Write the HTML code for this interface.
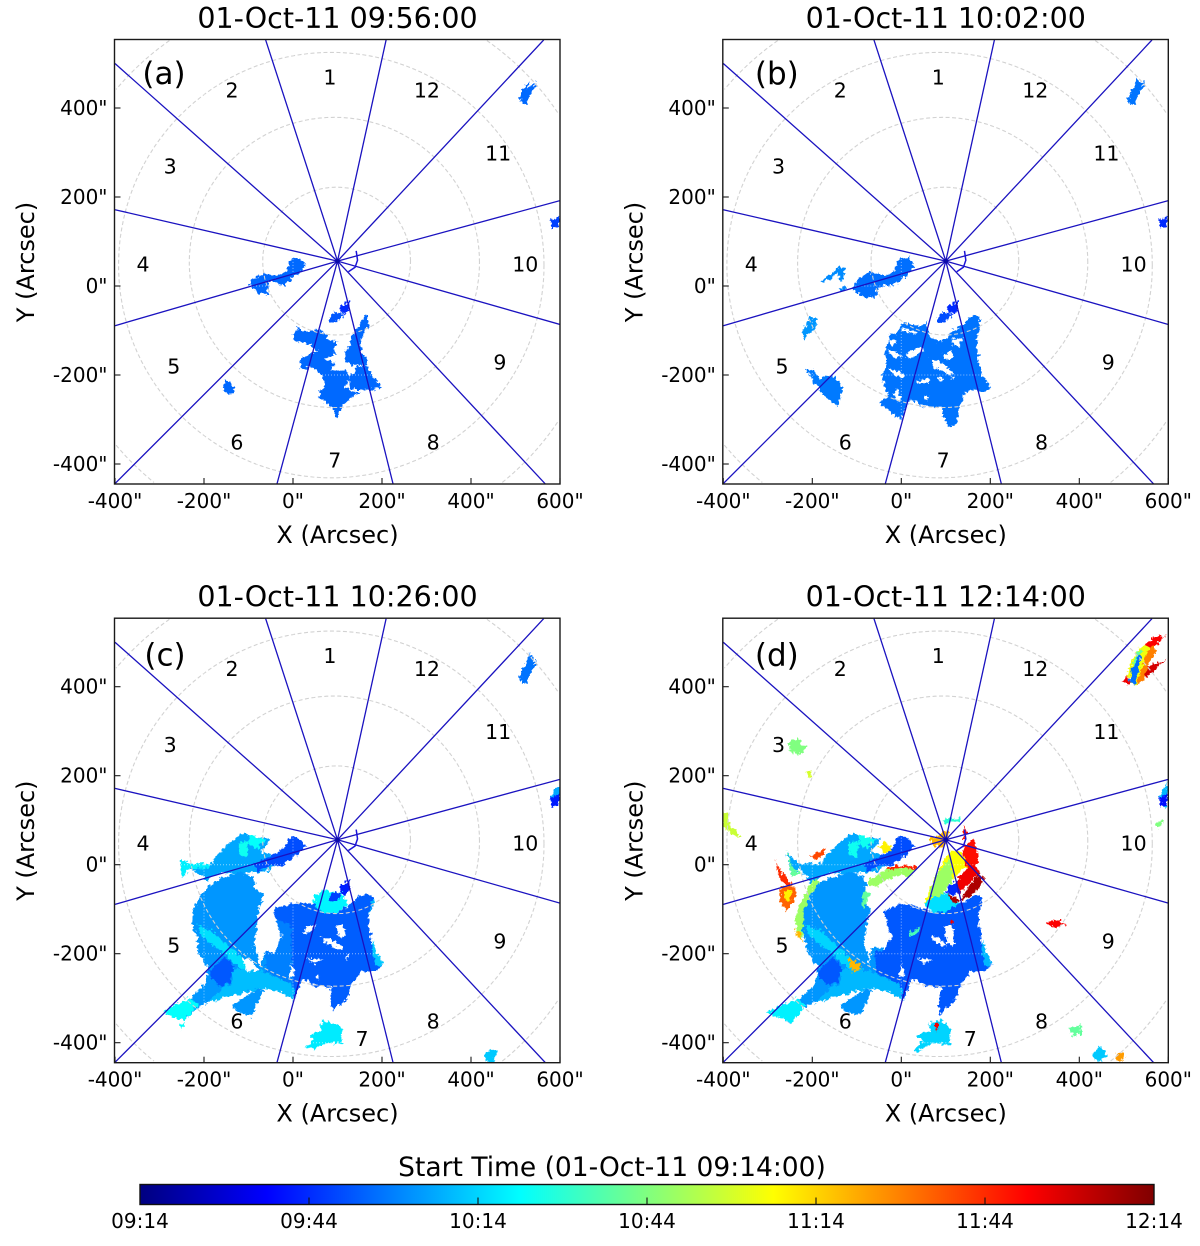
<!DOCTYPE html>
<html lang="en">
<head>
<meta charset="utf-8">
<title>Flare ribbon start time maps</title>
<style>
html,body{margin:0;padding:0;background:#fff;width:1200px;height:1246px;overflow:hidden}
svg{display:block}
text{font-family:"DejaVu Sans","Liberation Sans",sans-serif;fill:#000}
.title{font-size:28.5px;text-anchor:middle}
.axis-title{font-size:24px;text-anchor:middle}
.letter{font-size:31px;text-anchor:middle}
.tick{font-size:20px}
.sector{font-size:20.5px;text-anchor:middle}
</style>
</head>
<body>
<svg id="figure" xmlns="http://www.w3.org/2000/svg" width="1200" height="1246" viewBox="0 0 1200 1246">
  <defs>
    <clipPath id="axes-clip"><rect x="114.5" y="39.5" width="445.5" height="444.5"/></clipPath>
    <filter id="rough" filterUnits="userSpaceOnUse" x="110" y="35" width="455" height="455" color-interpolation-filters="sRGB">
      <feTurbulence type="fractalNoise" baseFrequency="0.28" numOctaves="3" seed="4" result="noise"/>
      <feDisplacementMap in="SourceGraphic" in2="noise" scale="7" xChannelSelector="R" yChannelSelector="G"/>
    </filter>
    <linearGradient id="jet-gradient" x1="0" y1="0" x2="1" y2="0"></linearGradient>
  </defs>

  <g id="panel-a" transform="translate(0,0)">
    <text class="title" x="337.5" y="28">01-Oct-11 09:56:00</text>
    <text class="letter" x="164" y="84">(a)</text>
    <text class="axis-title" x="337.5" y="543">X (Arcsec)</text>
    <text class="axis-title" transform="translate(34,262) rotate(-90)">Y (Arcsec)</text>
  </g>
  <g id="panel-b" transform="translate(608.3,0)">
    <text class="title" x="337.5" y="28">01-Oct-11 10:02:00</text>
    <text class="letter" x="168.5" y="84">(b)</text>
    <text class="axis-title" x="337.5" y="543">X (Arcsec)</text>
    <text class="axis-title" transform="translate(34,262) rotate(-90)">Y (Arcsec)</text>
  </g>
  <g id="panel-c" transform="translate(0,578.7)">
    <text class="title" x="337.5" y="28">01-Oct-11 10:26:00</text>
    <text class="letter" x="165" y="87">(c)</text>
    <text class="axis-title" x="337.5" y="543">X (Arcsec)</text>
    <text class="axis-title" transform="translate(34,262) rotate(-90)">Y (Arcsec)</text>
  </g>
  <g id="panel-d" transform="translate(608.3,578.7)">
    <text class="title" x="337.5" y="28">01-Oct-11 12:14:00</text>
    <text class="letter" x="168.5" y="87">(d)</text>
    <text class="axis-title" x="337.5" y="543">X (Arcsec)</text>
    <text class="axis-title" transform="translate(34,262) rotate(-90)">Y (Arcsec)</text>
  </g>

  <g id="colorbar">
    <text x="612" y="1176" style="font-size:26.5px;text-anchor:middle">Start Time (01-Oct-11 09:14:00)</text>
  </g>
</svg>

<script>
// Axis tick values (arcsec)
const xTickValues = [-400, -200, 0, 200, 400, 600];
const yTickValues = [-400, -200, 0, 200, 400];
const xTickLabels = ['-400"', '-200"', '0"', '200"', '400"', '600"'];
const yTickLabels = ['-400"', '-200"', '0"', '200"', '400"'];

// Visible data window of each panel (arcsec)
const xLimits = [-400, 600];
const yLimits = [-445, 553];

// Sector geometry: apex (arcsec) and boundary bearings (degrees clockwise from north)
const sectorApex = [100, 56];
const sectorBearings = [12.4, 43, 74.8, 105.9, 137, 166, 195.2, 225, 253.8, 283, 311.6, 342];

// Sector numbers and their label anchors (arcsec)
const sectorNumbers = ['1','2','3','4','5','6','7','8','9','10','11','12'];
const sectorLabelX = [83,-137,-276,-337,-268,-126,94,315,465,522,461,301];
const sectorLabelY = [470,441,270,49,-180,-351,-391,-351,-171,49,299,441];
const sectorLabelXLate7 = 155;

// Projected heliographic rings: centre X, centre Y, radius (arcsec)
const ringCenterX = [98, 93, 86, 79];
const ringCenterY = [56, 53, 47, 42];
const ringRadius = [166, 326, 478, 622];

// Sunspot-like hook near the apex (arcsec)
const hookX = [142, 145, 139.5, 124.5];
const hookY = [79, 58, 42, 32];

// Colour bar: minutes after 09:14
const cbarMaxMinutes = 180;
const cbarTickMinutes = [0, 30, 60, 90, 120, 150, 180];
const cbarTickLabels = ['09:14', '09:44', '10:14', '10:44', '11:14', '11:44', '12:14'];

// Ribbon regions per panel: [start minute after 09:14 (-1 = gap), outline in arcsec]
const regionsA = [
 [41,[[-16,32],[-7,58],[8,64],[23,54],[31,45],[16,32],[-3,17],[-18,0],[-37,7],[-53,12],[-57,-20],[-74,-17],[-93,-3],[-100,4],[-85,17],[-66,28],[-53,25],[-39,22]]],
 [30,[[106,-47],[125,-30],[128,-50],[117,-65],[106,-60]]],
 [38,[[80,-69],[98,-58],[113,-65],[106,-77],[83,-83]]],
 [41,[[0,-108],[12,-92],[23,-103],[53,-97],[77,-107],[76,-122],[102,-125],[91,-144],[98,-155],[68,-163],[57,-148],[38,-133],[16,-125],[2,-122]]],
 [41,[[16,-163],[38,-153],[61,-144],[76,-167],[95,-174],[83,-189],[121,-189],[128,-211],[117,-223],[128,-238],[154,-238],[128,-253],[113,-268],[106,-279],[97,-298],[87,-271],[61,-253],[59,-238],[72,-226],[68,-204],[53,-189],[38,-182],[17,-187]]],
 [41,[[140,-103],[151,-84],[164,-65],[172,-77],[166,-99],[155,-110],[151,-133],[158,-155],[169,-167],[162,-178],[136,-178],[117,-167],[117,-148],[128,-133],[132,-110]]],
 [41,[[143,-182],[166,-178],[181,-204],[199,-228],[181,-232],[151,-234],[128,-232],[127,-208]]],
 [41,[[-158,-219],[-147,-213],[-132,-230],[-135,-243],[-149,-243],[-156,-230]]],
 [41,[[510,425],[521,451],[533,459],[525,444],[549,459],[536,436],[529,421],[521,406],[514,412]]],
 [34,[[578,148],[599,158],[599,137],[585,128],[581,141]]]
];
const regionsB = [
 [42,[[-18,32],[-7,60],[16,64],[31,43],[12,24],[-14,2],[-37,2],[-52,-5],[-59,-24],[-85,-26],[-104,-13],[-109,-2],[-93,17],[-74,30],[-48,28],[-37,22]]],
 [47,[[-181,9],[-160,27],[-139,45],[-136,42],[-129,39],[-129,12],[-139,12],[-142,32],[-160,17],[-179,6]]],
 [46,[[-142,-6],[-123,0],[-123,-8],[-138,-13]]],
 [49,[[-222,-103],[-209,-77],[-204,-68],[-192,-73],[-192,-99],[-209,-107],[-219,-122]]],
 [44,[[-214,-185],[-198,-189],[-183,-208],[-157,-200],[-139,-215],[-132,-232],[-139,-260],[-145,-271],[-168,-253],[-183,-234],[-201,-208],[-211,-193]]],
 [30,[[102,-48],[126,-30],[129,-50],[121,-63],[106,-62]]],
 [36,[[79,-69],[98,-58],[113,-65],[106,-77],[83,-84]]],
 [43,[[1,-83],[23,-88],[51,-88],[58,-77],[64,-114],[83,-125],[102,-118],[117,-99],[139,-88],[151,-69],[175,-65],[177,-95],[169,-122],[175,-174],[180,-196],[198,-226],[201,-230],[180,-238],[169,-232],[143,-238],[132,-271],[124,-313],[106,-314],[93,-294],[91,-271],[49,-271],[19,-253],[8,-279],[1,-303],[-25,-283],[-49,-262],[-29,-249],[-37,-226],[-44,-204],[-34,-181],[-35,-144],[-25,-110],[-10,-107]]],
 [-1,[[-31,-144],[-14,-148],[1,-159],[-18,-163]]],
 [-1,[[8,-155],[46,-135],[51,-146],[19,-163]]],
 [-1,[[66,-163],[93,-174],[117,-196],[109,-200],[72,-182]]],
 [-1,[[-25,-185],[8,-200],[1,-208],[-24,-195]]],
 [-1,[[34,-213],[64,-208],[61,-219],[38,-219]]],
 [-1,[[-10,-230],[1,-253],[-9,-263],[-16,-242]]],
 [-1,[[113,-118],[136,-118],[130,-137],[117,-133]]],
 [-1,[[94,-155],[113,-146],[117,-163],[102,-167]]],
 [-1,[[-29,-118],[-10,-125],[-22,-137]]],
 [-1,[[83,-204],[93,-208],[87,-215]]],
 [-1,[[49,-245],[64,-249],[57,-258]]],
 [-1,[[109,-204],[121,-200],[117,-211]]],
 [-1,[[1,-92],[34,-103],[34,-110],[4,-99]]],
 [43,[[510,421],[521,444],[530,472],[536,457],[550,461],[538,440],[527,418],[521,404],[512,410]]],
 [30,[[578,148],[598,158],[598,137],[587,128],[581,141]]]
];
const regionsC = [
 [52,[[-254,12],[-231,3],[-183,1],[-171,22],[-145,48],[-123,63],[-111,71],[-85,63],[-51,59],[-59,44],[-74,29],[-51,22],[-37,3],[-59,-16],[-111,-19],[-156,-19],[-186,-27],[-190,-38],[-231,-8],[-250,-30]]],
 [70,[[-123,48],[-100,52],[-104,14],[-119,22]]],
 [68,[[-96,67],[-59,56],[-81,37],[-100,48]]],
 [65,[[-254,12],[-231,3],[-186,1],[-194,-8],[-231,-8],[-250,-30]]],
 [36,[[-18,41],[-10,59],[5,64],[31,42],[8,22],[-22,-1],[-51,-1],[-78,-16],[-89,3],[-59,14],[-37,26]]],
 [49,[[-186,-45],[-156,-27],[-119,-16],[-89,-27],[-85,-53],[-65,-68],[-74,-90],[-78,-109],[-81,-147],[-89,-180],[-78,-210],[-72,-233],[-66,-199],[-59,-199],[-40,-199],[-22,-252],[8,-259],[1,-304],[-29,-285],[-66,-278],[-111,-289],[-149,-296],[-186,-308],[-216,-323],[-242,-349],[-269,-345],[-291,-330],[-265,-315],[-231,-300],[-198,-266],[-190,-233],[-212,-199],[-216,-162],[-227,-132],[-224,-102],[-209,-72]]],
 [39,[[-40,-98],[-3,-87],[46,-87],[68,-106],[98,-109],[128,-90],[151,-68],[177,-66],[181,-90],[169,-117],[177,-177],[188,-199],[203,-225],[181,-240],[154,-240],[132,-266],[121,-304],[89,-326],[83,-308],[87,-274],[53,-274],[20,-255],[5,-300],[-14,-289],[-59,-266],[-63,-195],[-40,-199],[-29,-162],[-37,-124],[-44,-106]]],
 [45,[[-63,-195],[-40,-199],[-29,-162],[-37,-124],[-3,-132],[-3,-200],[5,-300],[-14,-289],[-59,-266]]],
 [66,[[46,-68],[68,-57],[110,-64],[125,-90],[98,-109],[68,-106],[47,-94]]],
 [28,[[106,-49],[125,-30],[130,-53],[117,-68],[106,-63]]],
 [34,[[80,-68],[98,-60],[110,-68],[102,-79],[83,-83]]],
 [62,[[-216,-135],[-186,-147],[-134,-192],[-81,-237],[-111,-240],[-156,-199],[-201,-165]]],
 [38,[[-186,-237],[-153,-207],[-134,-229],[-141,-266],[-164,-274],[-186,-252]]],
 [56,[[-134,-233],[-66,-240],[-22,-259],[5,-278],[1,-304],[-29,-285],[-74,-278],[-141,-296],[-194,-311],[-156,-274],[-138,-270]]],
 [68,[[-291,-330],[-265,-315],[-231,-300],[-212,-315],[-242,-349],[-269,-345]]],
 [68,[[-254,-360],[-245,-356],[-250,-371]]],
 [49,[[-138,-315],[-104,-296],[-78,-278],[-66,-285],[-85,-319],[-93,-340],[-126,-330]]],
 [64,[[27,-409],[46,-398],[38,-383],[61,-375],[65,-350],[83,-353],[110,-364],[110,-401],[76,-401],[46,-415]]],
 [58,[[428,-428],[443,-416],[462,-420],[450,-435],[454,-445],[435,-443]]],
 [43,[[510,423],[521,449],[533,477],[540,456],[549,460],[536,434],[521,404],[514,407]]],
 [52,[[578,149],[593,175],[599,179],[599,139],[585,128]]],
 [27,[[578,149],[599,160],[599,139],[585,128]]],
 [58,[[181,-169],[188,-199],[205,-225],[188,-229],[177,-192]]],
 [55,[[177,-79],[184,-79],[169,-117]]],
 [-1,[[65,-162],[87,-169],[113,-184],[110,-192],[83,-180],[68,-175]]],
 [-1,[[98,-139],[113,-132],[119,-162],[104,-165]]],
 [-1,[[31,-139],[50,-135],[42,-150],[23,-154]]],
 [-1,[[-44,-117],[-25,-162],[-33,-177],[-44,-147]]],
 [-1,[[31,-210],[68,-214],[46,-222]]],
 [-1,[[-3,-222],[5,-252],[-10,-255]]],
 [-1,[[117,-207],[125,-199],[122,-218]]],
 [-1,[[50,-248],[62,-250],[55,-259]]],
 [-1,[[-115,-210],[-93,-214],[-78,-237],[-104,-240]]]
];
const regionsD = [
 [52,[[-258,26],[-228,3],[-179,1],[-168,22],[-142,48],[-119,63],[-108,71],[-82,63],[-48,59],[-55,44],[-70,29],[-48,22],[-33,3],[-55,-16],[-108,-19],[-153,-19],[-183,-27],[-198,-49],[-228,-8],[-246,-27]]],
 [70,[[-119,48],[-96,52],[-100,14],[-115,22]]],
 [70,[[-92,67],[-55,56],[-78,37],[-96,48]]],
 [36,[[-18,41],[-10,63],[8,64],[31,42],[12,22],[-18,-1],[-48,-1],[-74,-16],[-85,3],[-55,14],[-33,26]]],
 [49,[[-183,-38],[-153,-27],[-115,-16],[-85,-27],[-78,-49],[-85,-68],[-70,-102],[-78,-139],[-85,-180],[-74,-207],[-70,-233],[-70,-192],[-55,-184],[-37,-192],[-18,-252],[12,-259],[5,-304],[-25,-285],[-70,-278],[-108,-285],[-145,-296],[-194,-311],[-228,-323],[-250,-356],[-276,-341],[-303,-330],[-265,-315],[-228,-300],[-194,-266],[-186,-233],[-209,-199],[-224,-139],[-228,-102],[-205,-72]]],
 [38,[[-40,-106],[-3,-87],[49,-98],[72,-106],[102,-102],[132,-87],[177,-64],[180,-90],[173,-117],[180,-177],[192,-199],[205,-225],[184,-240],[158,-240],[136,-266],[121,-304],[87,-338],[83,-308],[91,-274],[57,-274],[23,-255],[8,-300],[-10,-289],[-55,-266],[-59,-195],[-37,-192],[-25,-162],[-33,-124]]],
 [95,[[-228,-87],[-209,-49],[-190,-30],[-183,-38],[-205,-72],[-220,-102],[-220,-165],[-231,-158],[-239,-124]]],
 [150,[[-282,11],[-269,-19],[-258,-27],[-246,-49],[-261,-45],[-276,-27]]],
 [140,[[-273,-53],[-246,-45],[-235,-57],[-243,-87],[-261,-106],[-273,-79]]],
 [115,[[-261,-60],[-246,-57],[-250,-79],[-261,-79]]],
 [85,[[-258,33],[-246,-4],[-228,-19],[-246,-27]]],
 [145,[[-207,18],[-183,29],[-169,39],[-175,22],[-190,14]]],
 [95,[[-78,-38],[-48,-19],[-25,-8],[12,-4],[34,-4],[19,-27],[1,-23],[-33,-34],[-55,-49],[-74,-45]]],
 [152,[[-33,-8],[-10,-1],[34,-3],[31,-8],[-10,-8],[-29,-13]]],
 [115,[[-49,41],[-37,54],[-25,42],[-20,32],[-40,27]]],
 [85,[[-85,-60],[-70,-64],[-78,-87],[-84,-98],[-89,-87]]],
 [125,[[-241,-147],[-228,-150],[-219,-177],[-228,-169]]],
 [62,[[49,-90],[72,-57],[102,-64],[132,-87],[102,-106],[72,-106]]],
 [112,[[109,33],[136,29],[154,-4],[132,-12],[117,-34],[94,-49],[72,-72],[49,-90],[79,-19]]],
 [95,[[79,-19],[109,11],[117,-34],[87,-72],[61,-72]]],
 [155,[[139,41],[162,56],[173,18],[169,-4],[151,-12],[143,3]]],
 [160,[[117,-42],[162,3],[177,-16],[132,-64],[109,-64]]],
 [172,[[132,-79],[173,-19],[186,-27],[180,-49],[154,-72],[117,-87],[102,-64]]],
 [30,[[106,-49],[124,-34],[133,-60],[117,-68],[102,-64]]],
 [75,[[93,100],[109,106],[132,104],[132,93],[109,97],[98,89]]],
 [125,[[61,56],[83,67],[94,78],[109,71],[102,52],[94,39],[72,44]]],
 [155,[[138,93],[147,71],[143,56],[138,56],[141,74]]],
 [90,[[-252,276],[-231,285],[-224,269],[-211,267],[-228,246],[-250,254]]],
 [105,[[-214,209],[-201,210],[-205,192]]],
 [103,[[-401,123],[-392,115],[-389,93],[-362,67],[-370,63],[-392,78],[-401,85]]],
 [158,[[544,490],[566,511],[595,516],[574,497],[555,479]]],
 [165,[[551,445],[596,460],[581,449],[551,419],[542,423]]],
 [160,[[495,411],[510,426],[514,404]]],
 [135,[[544,475],[566,494],[574,482],[555,449],[544,415],[529,404]]],
 [110,[[508,430],[525,475],[544,494],[559,490],[544,452],[529,404],[518,406]]],
 [85,[[518,445],[529,479],[540,482],[529,452]]],
 [42,[[512,411],[520,445],[538,475],[535,449],[525,404]]],
 [55,[[578,149],[592,172],[598,190],[598,130],[589,127]]],
 [25,[[578,149],[598,160],[598,138],[587,128]]],
 [90,[[570,85],[585,102],[589,97],[580,84]]],
 [158,[[328,-130],[349,-123],[372,-135],[345,-141],[330,-135]]],
 [85,[[375,-368],[405,-360],[407,-379],[386,-386]]],
 [58,[[428,-428],[446,-407],[465,-428],[450,-440],[435,-439]]],
 [130,[[480,-424],[499,-422],[503,-435],[488,-443]]],
 [60,[[27,-416],[49,-398],[34,-383],[64,-375],[64,-353],[91,-350],[111,-368],[109,-405],[72,-401],[34,-420]]],
 [160,[[76,-356],[83,-356],[79,-379]]],
 [49,[[-138,-315],[-104,-296],[-78,-278],[-67,-285],[-85,-323],[-93,-338],[-127,-330]]],
 [38,[[-186,-237],[-153,-207],[-134,-233],[-142,-266],[-168,-270],[-186,-252]]],
 [60,[[-220,-135],[-183,-147],[-134,-192],[-85,-237],[-112,-240],[-157,-199],[-201,-165]]],
 [55,[[-134,-233],[-67,-240],[-22,-259],[4,-278],[1,-304],[-29,-285],[-74,-278],[-142,-296],[-194,-311],[-157,-274],[-138,-270]]],
 [125,[[-119,-210],[-93,-222],[-89,-237],[-112,-240]]],
 [65,[[-303,-330],[-265,-315],[-231,-300],[-216,-319],[-246,-356],[-273,-345]]],
 [55,[[185,-169],[192,-199],[205,-225],[190,-229],[180,-192]]],
 [160,[[109,-124],[117,-121],[113,-135]]],
 [80,[[16,-155],[42,-140],[38,-152],[19,-162]]],
 [-1,[[68,-158],[87,-165],[102,-184],[87,-180],[70,-172]]],
 [-1,[[98,-139],[117,-135],[118,-180],[102,-177]]],
 [-1,[[34,-210],[72,-214],[49,-222]]],
 [-1,[[1,-222],[8,-252],[-6,-255]]],
 [-1,[[-40,-121],[-22,-162],[-29,-177],[-40,-147]]]
];

// Axis functions (arcsec to panel pixels)
function sx(v){ return 293 + v * 0.445; }
function sy(v){ return 286 - v * 0.445; }
// Matplotlib "jet" colour map
function jet(f){
  const c = v => Math.round(255 * Math.max(0, Math.min(1, v)));
  return 'rgb(' + c(1.5 - Math.abs(4*f - 3)) + ',' + c(1.5 - Math.abs(4*f - 2)) + ',' + c(1.5 - Math.abs(4*f - 1)) + ')';
}
const NS = 'http://www.w3.org/2000/svg';
function mk(tag, parent, attrs){
  const n = document.createElementNS(NS, tag);
  for (const k in attrs) n.setAttribute(k, attrs[k]);
  parent.appendChild(n);
  return n;
}
// Length of a ray from the apex to the edge of the data window
function rayReach(dx, dy){
  let t = Infinity;
  if (dx > 0) t = Math.min(t, (xLimits[1] - sectorApex[0]) / dx);
  if (dx < 0) t = Math.min(t, (xLimits[0] - sectorApex[0]) / dx);
  if (dy > 0) t = Math.min(t, (yLimits[1] - sectorApex[1]) / dy);
  if (dy < 0) t = Math.min(t, (yLimits[0] - sectorApex[1]) / dy);
  return t;
}
// Parts of a ring that fall inside the data window, as point runs
function ringRuns(cx, cy, r){
  const runs = [];
  let run = null;
  for (let d = 0; d <= 360; d += 1) {
    const a = d * Math.PI / 180;
    const x = cx + r * Math.cos(a), y = cy + r * Math.sin(a);
    if (x >= xLimits[0] && x <= xLimits[1] && y >= yLimits[0] && y <= yLimits[1]) {
      if (!run) { run = []; runs.push(run); }
      run.push(sx(x).toFixed(1) + ',' + sy(y).toFixed(1));
    } else {
      run = null;
    }
  }
  return runs;
}

function drawPanel(key, regions, late7){
  const root = document.getElementById('panel-' + key);
  const plot = mk('g', root, {'clip-path':'url(#axes-clip)'});
  
  

  const blobs = mk('g', plot, {filter:'url(#rough)'});
  
  
  regions.forEach(function(r){
    const pts = r[1].map(function(p){ return sx(p[0]).toFixed(1) + ',' + sy(p[1]).toFixed(1); }).join(' ');
    const fill = r[0] < 0 ? '#fff' : jet(r[0] / cbarMaxMinutes);
    const el = mk('polygon', blobs, {points: pts, fill: fill});
    
    
  });

  ringRadius.forEach(function(rad, i){
    ringRuns(ringCenterX[i], ringCenterY[i], rad).forEach(function(run){
      const el = mk('polyline', plot, {points: run.join(' '), fill:'none', stroke:'#d2d2d2', 'stroke-width':1.1, 'stroke-dasharray':'4 2.5'});
      
      
    });
  });

  xTickValues.slice(1,5).forEach(function(v){
    const el = mk('line', plot, {x1:sx(v), x2:sx(v), y1:sy(yLimits[1]), y2:sy(yLimits[0]), stroke:'#fff', 'stroke-opacity':0.55, 'stroke-width':1, 'stroke-dasharray':'1 2'});
    
    
  });
  yTickValues.forEach(function(v){
    const el = mk('line', plot, {x1:sx(xLimits[0]), x2:sx(xLimits[1]), y1:sy(v), y2:sy(v), stroke:'#fff', 'stroke-opacity':0.55, 'stroke-width':1, 'stroke-dasharray':'1 2'});
    
    
  });

  sectorBearings.forEach(function(b){
    const a = b * Math.PI / 180;
    const dx = Math.sin(a), dy = Math.cos(a), t = rayReach(dx, dy);
    const el = mk('line', plot, {x1:sx(sectorApex[0]), y1:sy(sectorApex[1]),
      x2:sx(sectorApex[0] + t*dx), y2:sy(sectorApex[1] + t*dy),
      stroke:'#1a12c0', 'stroke-width':1.3});
    
    
  });

  const hook = mk('polyline', plot, {points: hookX.map(function(x,i){ return sx(x) + ',' + sy(hookY[i]); }).join(' '),
    fill:'none', stroke:'#1c14d8', 'stroke-width':1.5});
  
  
  const dot = mk('circle', plot, {cx:sx(sectorApex[0]), cy:sy(sectorApex[1]), r:2.2, fill:'#0a0aa8'});
  
  

  sectorNumbers.forEach(function(n, i){
    const x = (late7 && n === '7') ? sectorLabelXLate7 : sectorLabelX[i];
    const el = mk('text', root, {'class':'sector', x:sx(x), y:sy(sectorLabelY[i]) + 7.5});
    el.textContent = n;
    
    
  });

  const frame = mk('rect', root, {x:114.5, y:39.5, width:445.5, height:444.5, fill:'none', stroke:'#1a1a1a', 'stroke-width':1.4});
  
  

  xTickValues.forEach(function(v, i){
    const t = mk('line', root, {x1:sx(v), x2:sx(v), y1:484, y2:478, stroke:'#1a1a1a', 'stroke-width':1.1});
    
    
    const l = mk('text', root, {'class':'tick', x:sx(v), y:508, 'text-anchor':'middle'});
    l.textContent = xTickLabels[i];
    
    
  });
  yTickValues.forEach(function(v, i){
    const t = mk('line', root, {x1:114.5, x2:120.5, y1:sy(v), y2:sy(v), stroke:'#1a1a1a', 'stroke-width':1.1});
    
    
    const l = mk('text', root, {'class':'tick', x:107.5, y:sy(v) + 7, 'text-anchor':'end'});
    l.textContent = yTickLabels[i];
    
    
  });
}

drawPanel('a', regionsA, false);
drawPanel('b', regionsB, false);
drawPanel('c', regionsC, true);
drawPanel('d', regionsD, true);

// Colour bar
(function(){
  const grad = document.getElementById('jet-gradient');
  const steps = 32;
  for (let i = 0; i <= steps; i++) {
    mk('stop', grad, {offset: i / steps, 'stop-color': jet(i / steps)});
  }
  const bar = document.getElementById('colorbar');
  const barLeft = 140, barRight = 1154, barTop = 1184.5, barBottom = 1204.5;
  const cx = m => barLeft + (barRight - barLeft) * m / cbarMaxMinutes;
  const strip = mk('rect', bar, {x:barLeft, y:barTop, width:barRight-barLeft, height:barBottom-barTop, fill:'url(#jet-gradient)', stroke:'#111', 'stroke-width':1.4});
  
  
  cbarTickMinutes.forEach(function(m, i){
    if (i > 0 && i < cbarTickMinutes.length - 1) {
      const t = mk('line', bar, {x1:cx(m), x2:cx(m), y1:barBottom, y2:barBottom-7, stroke:'#111', 'stroke-width':1.1});
      
      
    }
    const l = mk('text', bar, {'class':'tick', x:cx(m), y:1228, 'text-anchor':'middle'});
    l.textContent = cbarTickLabels[i];
    
    
  });
})();
</script>
</body>
</html>
